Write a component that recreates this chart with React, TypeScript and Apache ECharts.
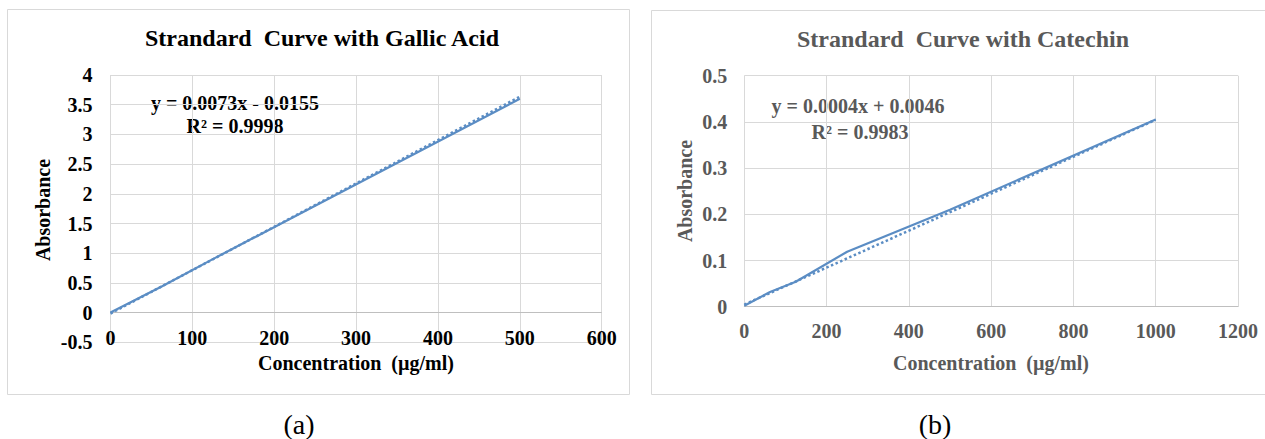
import React, { useEffect, useRef } from "react";
import * as echarts from "echarts";

// ---- Data ----
const gallicConc = [0, 31.25, 62.5, 125, 250, 500];
const gallicAbs = [0, 0.22, 0.44, 0.9, 1.8, 3.6];
const gallicTrendConc = [0, 500];
const gallicTrendAbs = [-0.0155, 3.6345];

const catechinConc = [0, 62.5, 125, 250, 500, 1000];
const catechinAbs = [0.002, 0.032, 0.054, 0.119, 0.21, 0.405];
const catechinTrendConc = [0, 1000];
const catechinTrendAbs = [0.0046, 0.4046];

const titles = ["Strandard  Curve with Gallic Acid", "Strandard  Curve with Catechin"];
const equations = [
  ["y = 0.0073x - 0.0155", "R\u00b2 = 0.9998"],
  ["y = 0.0004x + 0.0046", "R\u00b2 = 0.9983"],
];
const xAxisName = "Concentration  (\u00b5g/ml)";
const yAxisName = "Absorbance";
const panelLabels = ["(a)", "(b)"];

const FONT = '"Liberation Serif", "Times New Roman", serif';
const LINE_COLOR = "#5B8DC4";
const GRID_COLOR = "#d9d9d9";

const zip = (xs: number[], ys: number[]) => xs.map((x, i) => [x, ys[i]]);

export default function App() {
  const ref = useRef<HTMLDivElement>(null);
  useEffect(() => {
    if (!ref.current) return;
    const chart = echarts.init(ref.current, undefined, { renderer: "svg" });
    const colors = ["#000000", "#595959"];
    const axisLabel = (c: string, margin: number) => ({
      color: c,
      fontFamily: FONT,
      fontWeight: "bold" as const,
      fontSize: 20,
      margin,
      formatter: (v: number) => String(Math.round(v * 1000) / 1000),
    });
    const textEl = (
      text: string,
      x: number,
      y: number,
      size: number,
      color: string,
      bold = true,
      rotation = 0
    ) => ({
      type: "text",
      x,
      y,
      rotation,
      silent: true,
      style: {
        text,
        fill: color,
        font: `${bold ? "bold " : ""}${size}px ${FONT}`,
        align: "center",
        verticalAlign: "middle",
      },
    });
    chart.setOption({
      animation: false,
      backgroundColor: "#ffffff",
      grid: [
        { left: 110.5, top: 75, width: 491.2, height: 267.3 },
        { left: 744.3, top: 75.7, width: 493.7, height: 231 },
      ],
      xAxis: [
        {
          type: "value",
          gridIndex: 0,
          min: 0,
          max: 600,
          interval: 100,
          axisLine: { show: false },
          axisTick: { show: false },
          axisLabel: axisLabel(colors[0], -14.5),
          splitLine: { show: true, lineStyle: { color: GRID_COLOR, width: 1 } },
        },
        {
          type: "value",
          gridIndex: 1,
          min: 0,
          max: 1200,
          interval: 200,
          axisLine: { show: true, lineStyle: { color: "#bfbfbf", width: 1 } },
          axisTick: { show: false },
          axisLabel: axisLabel(colors[1], 14),
          splitLine: { show: true, lineStyle: { color: GRID_COLOR, width: 1 } },
        },
      ],
      yAxis: [
        {
          type: "value",
          gridIndex: 0,
          min: -0.5,
          max: 4,
          interval: 0.5,
          axisLine: { show: false },
          axisTick: { show: false },
          axisLabel: axisLabel(colors[0], 18),
          splitLine: { show: true, lineStyle: { color: GRID_COLOR, width: 1 } },
        },
        {
          type: "value",
          gridIndex: 1,
          min: 0,
          max: 0.5,
          interval: 0.1,
          axisLine: { show: false },
          axisTick: { show: false },
          axisLabel: axisLabel(colors[1], 17),
          splitLine: { show: true, lineStyle: { color: GRID_COLOR, width: 1 } },
        },
      ],
      series: [
        {
          type: "line",
          xAxisIndex: 0,
          yAxisIndex: 0,
          data: zip(gallicTrendConc, gallicTrendAbs),
          showSymbol: false,
          lineStyle: { color: LINE_COLOR, width: 2.5, type: "dotted" },
          z: 2,
        },
        {
          type: "line",
          xAxisIndex: 0,
          yAxisIndex: 0,
          data: zip(gallicConc, gallicAbs),
          showSymbol: false,
          lineStyle: { color: LINE_COLOR, width: 2.2 },
          z: 3,
          markLine: {
            silent: true,
            symbol: "none",
            label: { show: false },
            lineStyle: { color: "#bfbfbf", width: 1, type: "solid" },
            data: [{ yAxis: 0 }],
            z: 1,
          },
        },
        {
          type: "line",
          xAxisIndex: 1,
          yAxisIndex: 1,
          data: zip(catechinTrendConc, catechinTrendAbs),
          showSymbol: false,
          lineStyle: { color: LINE_COLOR, width: 2.5, type: "dotted" },
          z: 2,
        },
        {
          type: "line",
          xAxisIndex: 1,
          yAxisIndex: 1,
          data: zip(catechinConc, catechinAbs),
          showSymbol: false,
          lineStyle: { color: LINE_COLOR, width: 2.2 },
          z: 3,
        },
      ],
      graphic: [
        {
          type: "rect",
          shape: { x: 7.5, y: 9.5, width: 622, height: 385 },
          style: { fill: "none", stroke: GRID_COLOR, lineWidth: 1 },
          silent: true,
          z: -10,
        },
        {
          type: "rect",
          shape: { x: 651.5, y: 10.5, width: 630, height: 384 },
          style: { fill: "none", stroke: GRID_COLOR, lineWidth: 1 },
          silent: true,
          z: -10,
        },
        textEl(titles[0], 322, 38, 24, colors[0]),
        textEl(titles[1], 963, 39, 24, colors[1]),
        textEl(equations[0][0], 235, 103, 20, colors[0]),
        textEl(equations[0][1], 235, 126, 20, colors[0]),
        textEl(equations[1][0], 858, 106, 20, colors[1]),
        textEl(equations[1][1], 860, 132, 20, colors[1]),
        textEl(xAxisName, 356, 363, 20, colors[0]),
        textEl(xAxisName, 991, 363, 20, colors[1]),
        textEl(yAxisName, 43, 210, 20, colors[0], true, Math.PI / 2),
        textEl(yAxisName, 685, 191, 20, colors[1], true, Math.PI / 2),
        textEl(panelLabels[0], 299, 424, 28, "#000000", false),
        textEl(panelLabels[1], 935, 424, 28, "#000000", false),
      ],
    });
    return () => chart.dispose();
  }, []);
  return (
    <div
      ref={ref}
      style={{ position: "fixed", left: 0, top: 0, width: 1265, height: 439, background: "#fff" }}
    />
  );
}
